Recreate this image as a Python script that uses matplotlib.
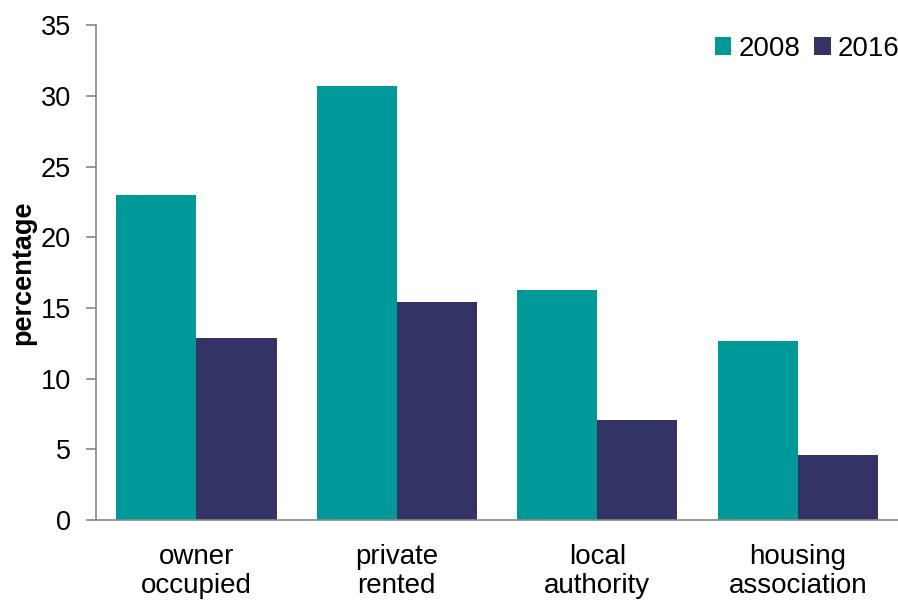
import numpy as np
import matplotlib.pyplot as plt

# tenure categories and percentages by year
categories = ["owner\noccupied", "private\nrented", "local\nauthority", "housing\nassociation"]
years = ["2008", "2016"]
pct_2008 = [23.0, 30.7, 16.3, 12.7]
pct_2016 = [12.9, 15.4, 7.1, 4.6]

plt.rcParams['font.family'] = ['Liberation Sans', 'DejaVu Sans']

fig = plt.figure(figsize=(8.98, 6), dpi=100)
ax = fig.add_axes([0.107, 0.133, 0.893, 0.825])

x = np.arange(len(categories))
w = 0.4
ax.bar(x - w / 2, pct_2008, w, color="#009999", label=years[0])
ax.bar(x + w / 2, pct_2016, w, color="#333366", label=years[1])

ax.set_xlim(-0.5, 3.5)
ax.set_ylim(0, 35)
ax.set_yticks(range(0, 36, 5))
ax.set_xticks(x)
ax.set_xticklabels(categories, fontsize=20, linespacing=1.15)
ax.tick_params(axis='y', labelsize=19.5, color="#888888", length=7, width=1.2, pad=11)
ax.tick_params(axis='x', length=0, pad=17)
ax.set_ylabel("percentage", fontsize=19.5, fontweight="bold", labelpad=3)

for s in ["top", "right"]:
    ax.spines[s].set_visible(False)
for s in ["left", "bottom"]:
    ax.spines[s].set_color("#888888")
    ax.spines[s].set_linewidth(1.2)

ax.legend(loc="upper right", bbox_to_anchor=(1.012, 0.995), ncol=2, frameon=False,
          fontsize=20, handlelength=0.6, handleheight=0.6, handletextpad=0.25,
          columnspacing=0.5, borderaxespad=0.2, borderpad=0.1)

fig.savefig("out.png", dpi=100)
